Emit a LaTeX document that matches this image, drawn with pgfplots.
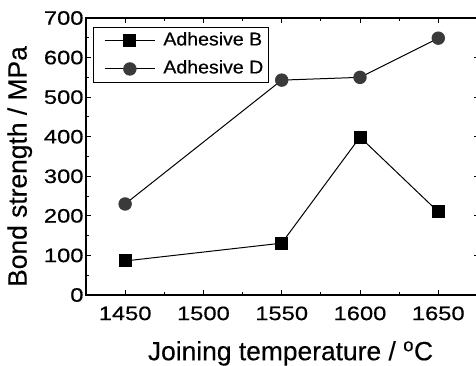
\documentclass[border=0pt]{standalone}
\usepackage{fontspec}
\setmainfont{Liberation Sans}[FakeBold=0.3]
\newfontfamily\tickfont{Liberation Sans}[FakeStretch=1.22,FakeBold=0.5]
\newfontfamily\legfont{Liberation Sans}[FakeStretch=1.06,FakeBold=0.5]
\usepackage{pgfplots}
\pgfplotsset{compat=1.18}
\definecolor{dgray}{HTML}{3A3A3A}
\begin{document}
\begin{tikzpicture}
\begin{axis}[
  width=393bp, height=277bp, scale only axis,
  xmin=1425, xmax=1676, ymin=0, ymax=700,
  xtick={1450,1500,1550,1600,1650},
  ytick={0,100,...,700},
  minor x tick num=1, minor y tick num=1,
  tick align=inside,
  major tick length=5bp, minor tick length=3bp,
  axis line style={line width=1.2bp},
  every tick/.style={black, line width=0.9bp},
  /pgf/number format/assume math mode=true,
  /pgf/number format/set thousands separator={},
  ticklabel style={font=\tickfont\fontsize{19.5}{22}\selectfont},
  xticklabel style={yshift=-8bp},
  yticklabel style={xshift=1bp},
  xlabel={Joining temperature / $^{\mathrm{o}}$C},
  ylabel={Bond strength / MPa},
  label style={font=\fontsize{26.5}{30}\selectfont},
  xlabel style={yshift=-14bp, xshift=8bp},
  ylabel style={yshift=5bp, xshift=-10bp},
  legend style={at={(rel axis cs:0.018,0.967)}, anchor=north west,
    font=\legfont\fontsize{18.5}{22}\selectfont, draw=black, line width=0.6bp,
    row sep=5bp, inner xsep=2bp, inner ysep=2bp,
    nodes={inner xsep=3bp, inner ysep=3bp, text height=13bp, text depth=4bp},
    /tikz/every odd column/.append style={column sep=5bp}},
  legend cell align=left,
  legend image code/.code={\path (0bp,0bp) (59bp,0bp);\draw[mark repeat=2,mark phase=2,#1] plot coordinates {(9bp,0bp) (34bp,0bp) (59bp,0bp)};},
]
\addplot[black, line width=1bp, mark=square*, mark size=6bp, mark options={fill=black}]
  coordinates {(1450,86) (1550,131) (1600,399) (1650,210)};
\addlegendentry{Adhesive B}
\addplot[black, line width=1bp, mark=*, mark size=6.2bp, mark options={fill=dgray, draw=dgray}]
  coordinates {(1450,230) (1550,543) (1600,550) (1650,649)};
\addlegendentry{Adhesive D}
\end{axis}
\pgfresetboundingbox
\useasboundingbox ([shift={(-86bp,-71bp)}]current axis.south west) rectangle ([shift={(-3bp,18bp)}]current axis.north east);
\end{tikzpicture}
\end{document}
